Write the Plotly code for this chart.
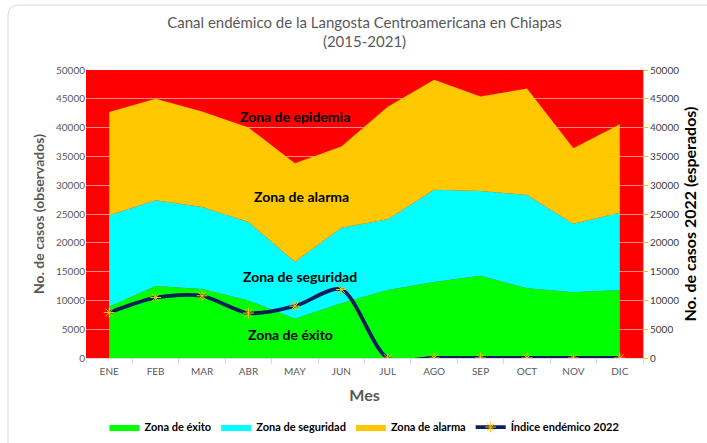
import plotly.graph_objects as go

meses = ["ENE", "FEB", "MAR", "ABR", "MAY", "JUN", "JUL", "AGO", "SEP", "OCT", "NOV", "DIC"]
zona_exito = [8900, 12500, 12000, 10000, 6800, 9500, 11800, 13200, 14300, 12100, 11400, 11800]
zona_seguridad = [24800, 27400, 26200, 23600, 16700, 22600, 24100, 29200, 29000, 28300, 23300, 25200]
zona_alarma = [42700, 45000, 42800, 40000, 33800, 36700, 43600, 48300, 45400, 46800, 36400, 40600]
indice_2022 = [7900, 10500, 10800, 7800, 9000, 11900, 0, 0, 0, 0, 0, 0]
yticks = list(range(0, 50001, 5000))
yticklabels = [str(v) for v in yticks]

FONT = "Lato"
W, H = 707, 443
ML, MR, MT, MB = 86, 64, 70, 85
PW, PH = W - ML - MR, H - MT - MB

fig = go.Figure()
fig.add_trace(go.Scatter(x=meses, y=zona_exito, name="<b>Zona de éxito</b>", mode="lines",
                         line=dict(width=0, color="#00FF00"), fill="tozeroy", fillcolor="#00FF00"))
fig.add_trace(go.Scatter(x=meses, y=zona_seguridad, name="<b>Zona de seguridad</b>", mode="lines",
                         line=dict(width=0, color="#00FFFF"), fill="tonexty", fillcolor="#00FFFF"))
fig.add_trace(go.Scatter(x=meses, y=zona_alarma, name="<b>Zona de alarma</b>", mode="lines",
                         line=dict(width=0, color="#FFC800"), fill="tonexty", fillcolor="#FFC800"))
fig.add_trace(go.Scatter(x=meses, y=indice_2022, name="<b>Índice endémico 2022</b>", mode="lines+markers",
                         yaxis="y2", line=dict(width=3.8, color="#0A1F5C", shape="spline", smoothing=0.8),
                         marker=dict(symbol="asterisk-open", size=9, color="#FFC000",
                                     line=dict(width=1, color="#FFC000")),
                         cliponaxis=True))

annots = [
    ("Zona de epidemia", 4.0, 42000),
    ("Zona de alarma", 4.15, 28100),
    ("Zona de seguridad", 4.1, 14100),
    ("Zona de éxito", 3.9, 4000),
]
annotations = [dict(x=x, y=y, xref="x", yref="y", text=f"<b>{t}</b>", showarrow=False,
                    font=dict(family=FONT, size=14, color="black")) for t, x, y in annots]


def px(xp):
    return (xp - ML) / PW


def py(yp):
    return (H - MB - yp) / PH


border_path = (f"M {px(8)},{py(460)} L {px(8)},{py(16)} Q {px(8)},{py(5)} {px(19)},{py(5)} "
               f"L {px(720)},{py(5)}")

fig.update_layout(
    width=W, height=H,
    margin=dict(l=ML, r=MR, t=MT, b=MB),
    paper_bgcolor="white", plot_bgcolor="#FF0000",
    font=dict(family=FONT, color="#595959"),
    title=dict(text="Canal endémico de la Langosta Centroamericana en Chiapas<br>(2015-2021)",
               x=0.5, xref="paper", yref="container", y=0.937, yanchor="middle",
               font=dict(family=FONT, size=15, color="#595959")),
    xaxis=dict(type="category", range=[-0.5, 11.5], showgrid=False, automargin=False,
               ticks="outside", tickson="boundaries", ticklen=5, tickcolor="#D9D9D9",
               showline=True, linecolor="#D9D9D9", ticklabelstandoff=4,
               tickfont=dict(size=10, color="#595959"),
               title=dict(text="<b>Mes</b>", font=dict(size=16, color="#595959"), standoff=13)),
    yaxis=dict(range=[0, 50000], tickvals=yticks, ticktext=yticklabels, showgrid=True, automargin=False,
               gridcolor="rgba(255,200,200,0.7)", gridwidth=1, zeroline=False,
               tickfont=dict(size=10, color="#595959"),
               title=dict(text="<b>No. de casos (observados)</b>", font=dict(size=14, color="#595959"),
                          standoff=8)),
    yaxis2=dict(range=[0, 50000], tickvals=yticks, ticktext=yticklabels, overlaying="y", side="right",
                showgrid=False, zeroline=False, showline=True, linecolor="#FFC000", automargin=False,
                ticks="outside", ticklen=4, tickcolor="#FFC000",
                tickfont=dict(size=10, color="#404040"),
                title=dict(text="<b>No. de casos 2022 (esperados)</b>", font=dict(size=16, color="black"),
                           standoff=6)),
    legend=dict(orientation="h", x=0.5, xanchor="center", yref="container", y=0.036, yanchor="middle",
                font=dict(family=FONT, size=11, color="black"), traceorder="normal",
                itemwidth=30),
    annotations=annotations,
    shapes=[dict(type="path", path=border_path, xref="paper", yref="paper",
                 line=dict(color="#D9D9D9", width=1), layer="above")],
    showlegend=True,
)

fig.write_html("out.html", config={"displayModeBar": False},
               post_script="document.body.style.margin='0';")
